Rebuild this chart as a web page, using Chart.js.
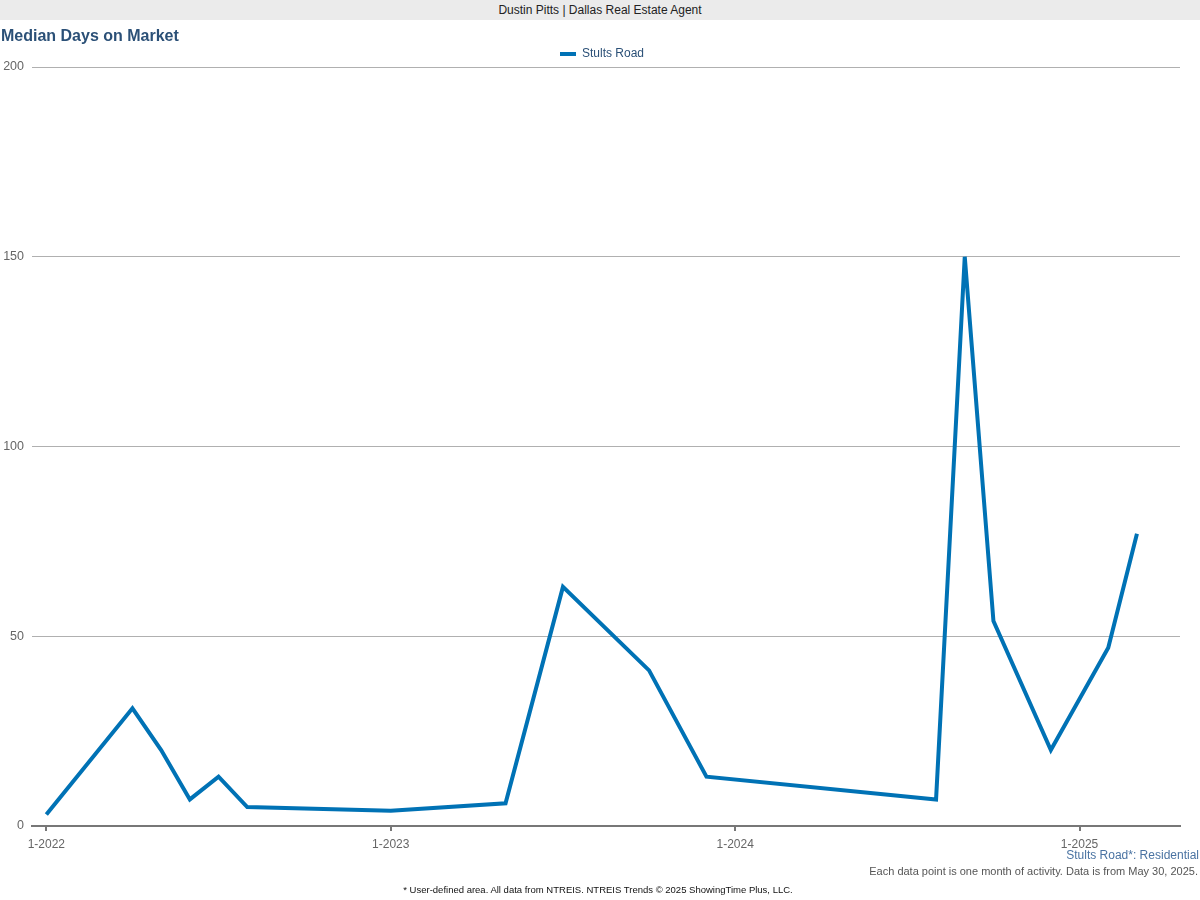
<!DOCTYPE html>
<html>
<head>
<meta charset="utf-8">
<script src="https://cdn.jsdelivr.net/npm/chart.js@4.4.0/dist/chart.umd.min.js"></script>
<style>
  body { margin: 0; background: #fff; font-family: "Liberation Sans", Arial, sans-serif; }
  #wrap { position: relative; width: 1200px; height: 900px; overflow: hidden; }
  #chart { position: absolute; left: 0; top: 0; }
  .header { position: absolute; left: 0; top: 0; width: 1200px; height: 20px; background: #ebebeb;
    font-size: 12px; line-height: 20px; text-align: center; color: #222; }
  .title { position: absolute; left: 1px; top: 27px; font-size: 16px; font-weight: bold; color: #2b5077; }
  .area { position: absolute; right: 1px; top: 848px; font-size: 12px; color: #4a73a2; }
  .note { position: absolute; right: 2px; top: 865px; font-size: 11px; color: #555; }
  .source { position: absolute; left: 0; width: 1196px; top: 884px; font-size: 9.5px; color: #111; text-align: center; }
</style>
</head>
<body>
<div id="wrap">
  <canvas id="chart" width="1200" height="900"></canvas>
  <div class="header">Dustin Pitts | Dallas Real Estate Agent</div>
  <div class="title">Median Days on Market</div>
  <div class="area">Stults Road*: Residential</div>
  <div class="note">Each data point is one month of activity. Data is from May 30, 2025.</div>
  <div class="source">* User-defined area. All data from NTREIS. NTREIS Trends © 2025 ShowingTime Plus, LLC.</div>
</div>
<script>
// Månader jan 2022 - apr 2025
const months = [
    '1-2022','2-2022','3-2022','4-2022','5-2022','6-2022','7-2022','8-2022','9-2022','10-2022','11-2022','12-2022',
    '1-2023','2-2023','3-2023','4-2023','5-2023','6-2023','7-2023','8-2023','9-2023','10-2023','11-2023','12-2023',
    '1-2024','2-2024','3-2024','4-2024','5-2024','6-2024','7-2024','8-2024','9-2024','10-2024','11-2024','12-2024',
    '1-2025','2-2025','3-2025','4-2025'
];
// null = ingen aktivitet den månaden
const stultsRoad = [
    3, null, null, 31, 20, 7, 13, 5, null, null, null, null,
    4, null, null, null, 6, null, 63, null, null, 41, null, 13,
    null, null, null, null, null, null, null, 7, 150, 54, null, 20,
    null, 47, 77, null
];
const yTicks = [0, 50, 100, 150, 200];

// Flytta legenden så den centreras över ritytan
const legendShift = {
    id: 'legendShift',
    afterLayout(chart) {
        const lg = chart.legend;
        lg.left += 12; lg.right += 12;
        lg.top += 3; lg.bottom += 3;
    }
};

const ctx = document.getElementById('chart').getContext('2d');
new Chart(ctx, {
    type: 'line',
    data: {
        labels: months,
        datasets: [{
            label: 'Stults Road',
            data: stultsRoad,
            borderColor: '#0072b5',
            backgroundColor: '#0072b5',
            borderWidth: 4,
            pointRadius: 0,
            tension: 0,
            spanGaps: true
        }]
    },
    plugins: [legendShift],
    options: {
        responsive: false,
        animation: false,
        layout: { padding: { top: 43, right: 20, bottom: 50, left: 0 } },
        plugins: {
            legend: {
                labels: {
                    usePointStyle: true,
                    pointStyle: 'line',
                    pointStyleWidth: 16,
                    color: '#2b5077',
                    font: { family: 'Liberation Sans', size: 12 },
                    padding: 2
                }
            },
            tooltip: { enabled: false }
        },
        scales: {
            x: {
                offset: true,
                afterFit: s => { s.height = 24; },
                grid: {
                    offset: false,
                    drawOnChartArea: false,
                    tickLength: 5,
                    lineWidth: 2,
                    color: c => (c.index % 12 === 0 ? '#777' : 'rgba(0,0,0,0)')
                },
                border: { color: '#777', width: 2 },
                ticks: {
                    autoSkip: false,
                    maxRotation: 0,
                    padding: 6,
                    color: '#666',
                    font: { family: 'Liberation Sans', size: 12 },
                    callback: function(v, i) { return i % 12 === 0 ? months[i] : ''; }
                }
            },
            y: {
                min: 0,
                max: 200,
                afterFit: s => { s.width = 32; },
                afterBuildTicks: s => { s.ticks = yTicks.map(v => ({ value: v })); },
                grid: { color: '#b0b0b0', drawTicks: false },
                border: { display: false },
                ticks: {
                    padding: 8,
                    color: '#666',
                    font: { family: 'Liberation Sans', size: 12.5 }
                }
            }
        }
    }
});
</script>
</body>
</html>
